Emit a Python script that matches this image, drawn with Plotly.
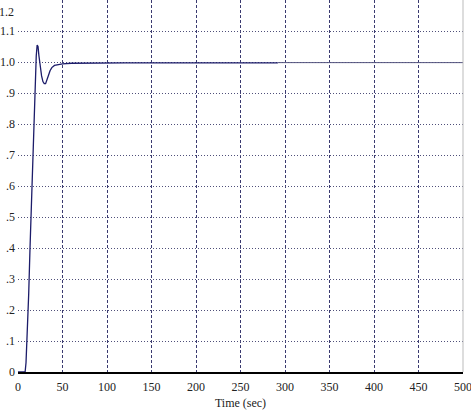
import plotly.graph_objects as go

# Step response (transient part, darker trace)
time_a = [0, 8, 9, 10.5, 12, 13.5, 15, 16.5, 18, 19.5, 20.5, 21.5, 22.5, 23.5, 25, 26.5, 28, 29.5, 31, 32.5, 34, 36, 38, 41, 45, 50, 60, 80, 120, 180, 240, 292]
resp_a = [0, 0, 0.03, 0.12, 0.25, 0.40, 0.55, 0.70, 0.85, 0.96, 1.02, 1.055, 1.05, 1.02, 0.985, 0.955, 0.937, 0.93, 0.93, 0.94, 0.955, 0.972, 0.982, 0.989, 0.992, 0.994, 0.996, 0.997, 0.997, 0.997, 0.997, 0.997]
# Continuation (lighter trace)
time_b = [292, 500]
resp_b = [0.998, 0.998]

x_ticks = [0, 50, 100, 150, 200, 250, 300, 350, 400, 450, 500]
y_ticks = [0, 0.1, 0.2, 0.3, 0.4, 0.5, 0.6, 0.7, 0.8, 0.9, 1.0, 1.1]
y_labels = ["0", ".1", ".2", ".3", ".4", ".5", ".6", ".7", ".8", ".9", "1.0", "1.1"]
x_title = "Time (sec)"
top_label = "1.2"

font = dict(family="Liberation Serif", size=12, color="#222222")

fig = go.Figure()
fig.add_trace(go.Scatter(x=time_a, y=resp_a, mode="lines",
                         line=dict(color="#1c1c6a", width=1.3), hoverinfo="skip"))
fig.add_trace(go.Scatter(x=time_b, y=resp_b, mode="lines",
                         line=dict(color="#55557f", width=1), hoverinfo="skip"))

fig.update_layout(
    width=471, height=412,
    margin=dict(l=18, r=8, t=0, b=40, autoexpand=False),
    paper_bgcolor="white", plot_bgcolor="white",
    showlegend=False,
    font=font,
)
fig.update_xaxes(
    range=[0, 500], tickvals=x_ticks, ticktext=[str(v) for v in x_ticks],
    showgrid=True, gridcolor="#3a3a70", gridwidth=1, griddash="3px,2px",
    showline=True, linecolor="black", linewidth=1.5,
    zeroline=False, ticks="", ticklen=0, automargin=False,
    ticklabeloverflow="allow", ticklabelstandoff=3,
    title=dict(text=x_title, standoff=5, font=font),
    tickfont=font,
)
fig.update_yaxes(
    range=[0, 1.2], tickvals=y_ticks, ticktext=y_labels,
    showgrid=True, gridcolor="#50507a", gridwidth=1, griddash="1px,2px",
    showline=False, zeroline=False, ticks="", ticklabelstandoff=2,
    automargin=False, ticklabeloverflow="allow",
    tickfont=font,
)
fig.add_shape(type="line", xref="paper", yref="paper", x0=1, x1=1, y0=0, y1=1,
              line=dict(color="#bbbbbb", width=1))
fig.add_annotation(text=top_label, xref="paper", yref="paper", x=0, y=1,
                   xanchor="right", yanchor="top", xshift=-2, yshift=-3,
                   showarrow=False, font=font)

fig.write_html("out.html", config={"displayModeBar": False},
               post_script="document.body.style.margin='0';document.body.style.padding='0';")
